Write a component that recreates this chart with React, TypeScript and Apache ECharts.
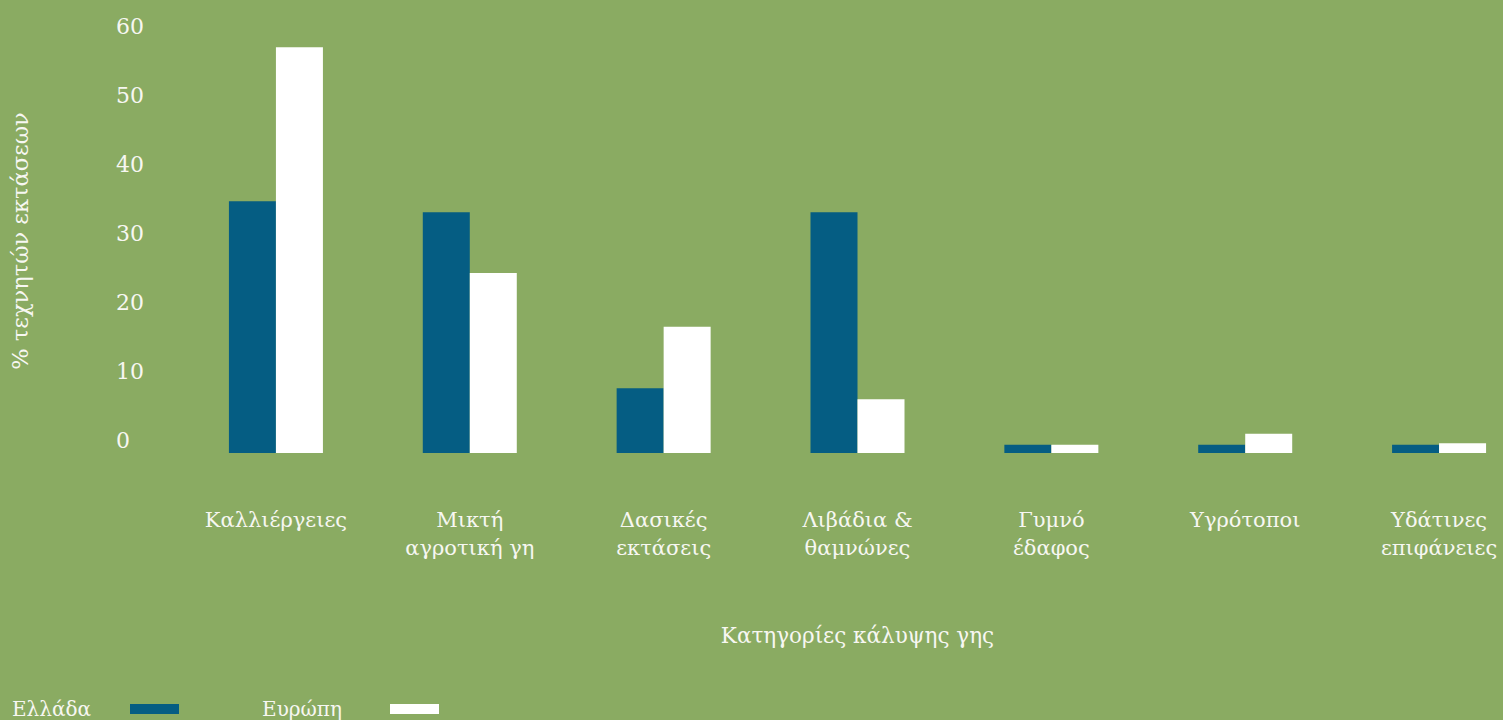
import React, { useEffect, useRef } from "react";
import * as echarts from "echarts";

const categories = [
  "Καλλιέργειες",
  "Μικτή\nαγροτική γη",
  "Δασικές\nεκτάσεις",
  "Λιβάδια &\nθαμνώνες",
  "Γυμνό\nέδαφος",
  "Υγρότοποι",
  "Υδάτινες\nεπιφάνειες",
];
const greece = [36.5, 34.9, 9.4, 34.9, 1.2, 1.2, 1.2];
const europe = [58.8, 26.1, 18.3, 7.8, 1.2, 2.8, 1.4];
const yTicks = [0, 10, 20, 30, 40, 50, 60];
const legendNames = ["Ελλάδα", "Ευρώπη"];

const FONT = "DejaVu Serif";
const TEXT = "#f7f7f2";

export default function App() {
  const ref = useRef<HTMLDivElement>(null);
  useEffect(() => {
    const chart = echarts.init(ref.current!, null, { renderer: "svg" });
    chart.setOption({
      animation: false,
      backgroundColor: "#8aab62",
      textStyle: { fontFamily: FONT },
      grid: { left: 176, right: 24, top: 39, bottom: 267, containLabel: false },
      legend: {
        left: 11,
        top: 698,
        padding: 0,
        align: "right",
        icon: "rect",
        itemWidth: 49,
        itemHeight: 10,
        itemGap: 83,
        textStyle: {
          color: TEXT,
          fontFamily: FONT,
          fontSize: 20,
          lineHeight: 22,
        },
        data: [
          { name: legendNames[0], textStyle: { width: 80, padding: [0, 34, 0, 0] } },
          { name: legendNames[1], textStyle: { width: 80, padding: [0, 43, 0, 0] } },
        ],
      },
      xAxis: {
        type: "category",
        data: categories,
        axisLine: { show: false },
        axisTick: { show: false },
        axisLabel: {
          color: TEXT,
          fontFamily: FONT,
          fontSize: 21,
          lineHeight: 28,
          margin: 53,
          interval: 0,
        },
        name: "Κατηγορίες κάλυψης γης",
        nameLocation: "middle",
        nameGap: 171,
        nameTextStyle: { color: TEXT, fontFamily: FONT, fontSize: 21.5 },
      },
      yAxis: {
        type: "value",
        min: 0,
        max: 60,
        splitLine: { show: false },
        axisLine: { show: false },
        axisTick: { show: false },
        axisLabel: {
          customValues: yTicks,
          color: TEXT,
          fontFamily: FONT,
          fontSize: 22,
          align: "left",
          verticalAlign: "bottom",
          lineHeight: 26,
          margin: 63,
        },
        name: "% τεχνητών εκτάσεων",
        nameLocation: "middle",
        nameGap: 148,
        nameTextStyle: { color: TEXT, fontFamily: FONT, fontSize: 22.5, padding: [0, 0, 0, 10] },
      },
      series: [
        {
          name: legendNames[0],
          type: "bar",
          data: greece,
          barWidth: 47,
          barGap: "0%",
          itemStyle: { color: "#055d83" },
        },
        {
          name: legendNames[1],
          type: "bar",
          data: europe,
          barWidth: 47,
          barGap: "0%",
          itemStyle: { color: "#ffffff" },
        },
      ],
    });
    return () => chart.dispose();
  }, []);
  return (
    <div style={{ position: "fixed", left: 0, top: 0, width: 1503, height: 720, overflow: "hidden" }}>
      <div ref={ref} style={{ width: 1560, height: 720 }} />
    </div>
  );
}
